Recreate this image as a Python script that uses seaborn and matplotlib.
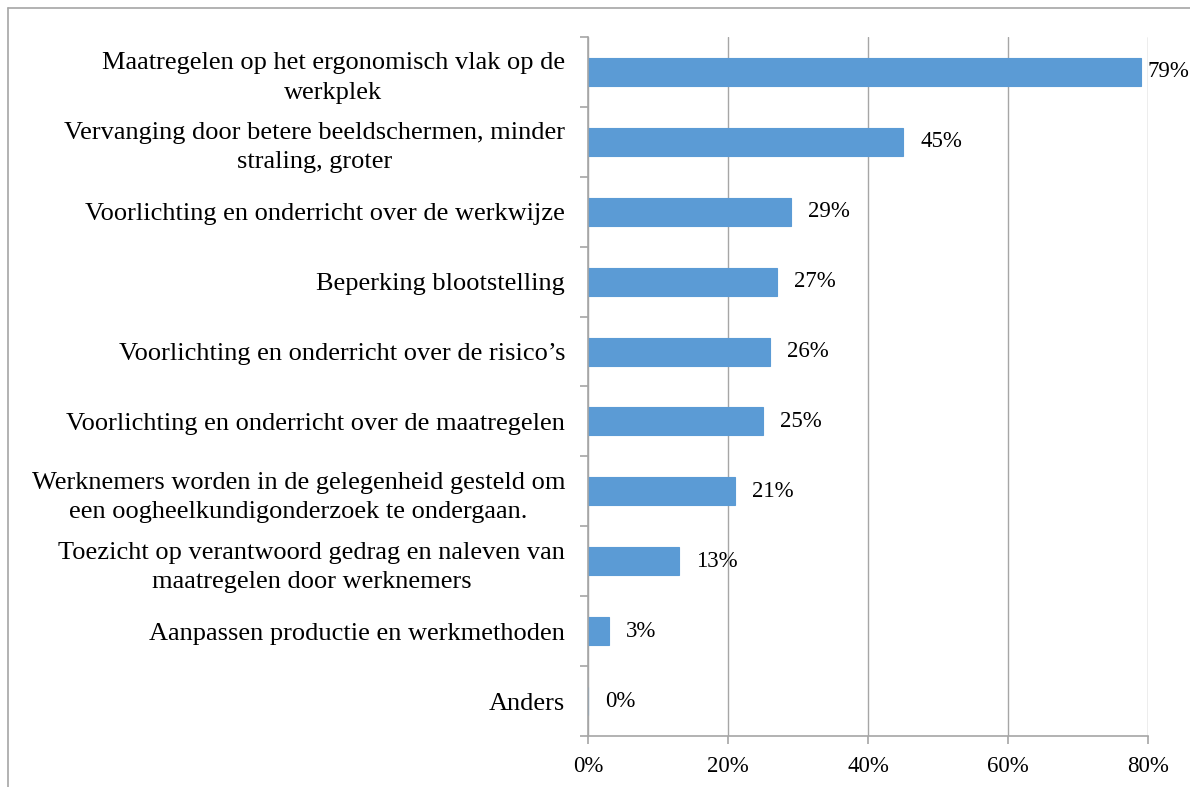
import matplotlib
matplotlib.use("Agg")
import matplotlib.pyplot as plt
import seaborn as sns
import pandas as pd
from matplotlib.lines import Line2D

categories = [
    "Maatregelen op het ergonomisch vlak op de\nwerkplek",
    "Vervanging door betere beeldschermen, minder\nstraling, groter",
    "Voorlichting en onderricht over de werkwijze",
    "Beperking blootstelling",
    "Voorlichting en onderricht over de risico\u2019s",
    "Voorlichting en onderricht over de maatregelen",
    "Werknemers worden in de gelegenheid gesteld om\neen oogheelkundigonderzoek te ondergaan.",
    "Toezicht op verantwoord gedrag en naleven van\nmaatregelen door werknemers",
    "Aanpassen productie en werkmethoden",
    "Anders",
]
values = [79, 45, 29, 27, 26, 25, 21, 13, 3, 0]
value_labels = ["79%", "45%", "29%", "27%", "26%", "25%", "21%", "13%", "3%", "0%"]
xticks = [0, 20, 40, 60, 80]
xtick_labels = ["0%", "20%", "40%", "60%", "80%"]

sns.set_theme(style="white")
plt.rcParams["font.family"] = ["Liberation Serif", "DejaVu Serif"]

BAR = "#5B9BD5"
GRAY = "#A6A6A6"

fig = plt.figure(figsize=(11.9, 7.87), dpi=100)
ax = fig.add_axes([588/1190, 1-736/787, (1148-588)/1190, (736-37)/787])

df = pd.DataFrame({"cat": categories, "val": values})
sns.barplot(data=df, x="val", y="cat", color=BAR, width=0.4, ax=ax,
            edgecolor=BAR, linewidth=0.8, saturation=1)

ax.set_xlim(0, 80)
ax.set_ylim(len(categories) - 0.5, -0.5)
ax.set_xlabel("")
ax.set_ylabel("")
ax.set_xticks(xticks)
ax.set_xticklabels(xtick_labels, fontsize=16.5)
ax.grid(axis="x", color=GRAY, linewidth=1)
ax.set_axisbelow(True)
for s in ["top", "right"]:
    ax.spines[s].set_visible(False)
for s in ["left", "bottom"]:
    ax.spines[s].set_color(GRAY)
    ax.spines[s].set_linewidth(1.2)

ax.set_yticks(range(len(categories)))
ax.set_yticklabels(categories, fontsize=19, multialignment="center", color="black",
                   linespacing=1.42)
ax.set_yticks([i - 0.5 for i in range(len(categories) + 1)], minor=True)
ax.tick_params(axis="y", which="major", length=0, pad=16.5)
ax.tick_params(axis="y", which="minor", length=6, color=GRAY, width=1.2, direction="out", left=True)
ax.tick_params(axis="x", which="major", length=6, color=GRAY, width=1.2, direction="out",
               bottom=True, pad=8.5, labelcolor="black")

for i, (v, lab) in enumerate(zip(values, value_labels)):
    off = 4.5 if v > 70 else 12.5
    ax.annotate(lab, xy=(v, i), xytext=(off, 0), textcoords="offset points",
                ha="left", va="center", fontsize=16.5, color="black")

# outer chart frame (partially clipped)
fig.add_artist(Line2D([8/1190, 1.0], [1-8/787, 1-8/787], transform=fig.transFigure, color=GRAY, linewidth=1.2))
fig.add_artist(Line2D([8/1190, 8/1190], [0, 1-8/787], transform=fig.transFigure, color=GRAY, linewidth=1.2))

fig.savefig("out.png", dpi=100)
